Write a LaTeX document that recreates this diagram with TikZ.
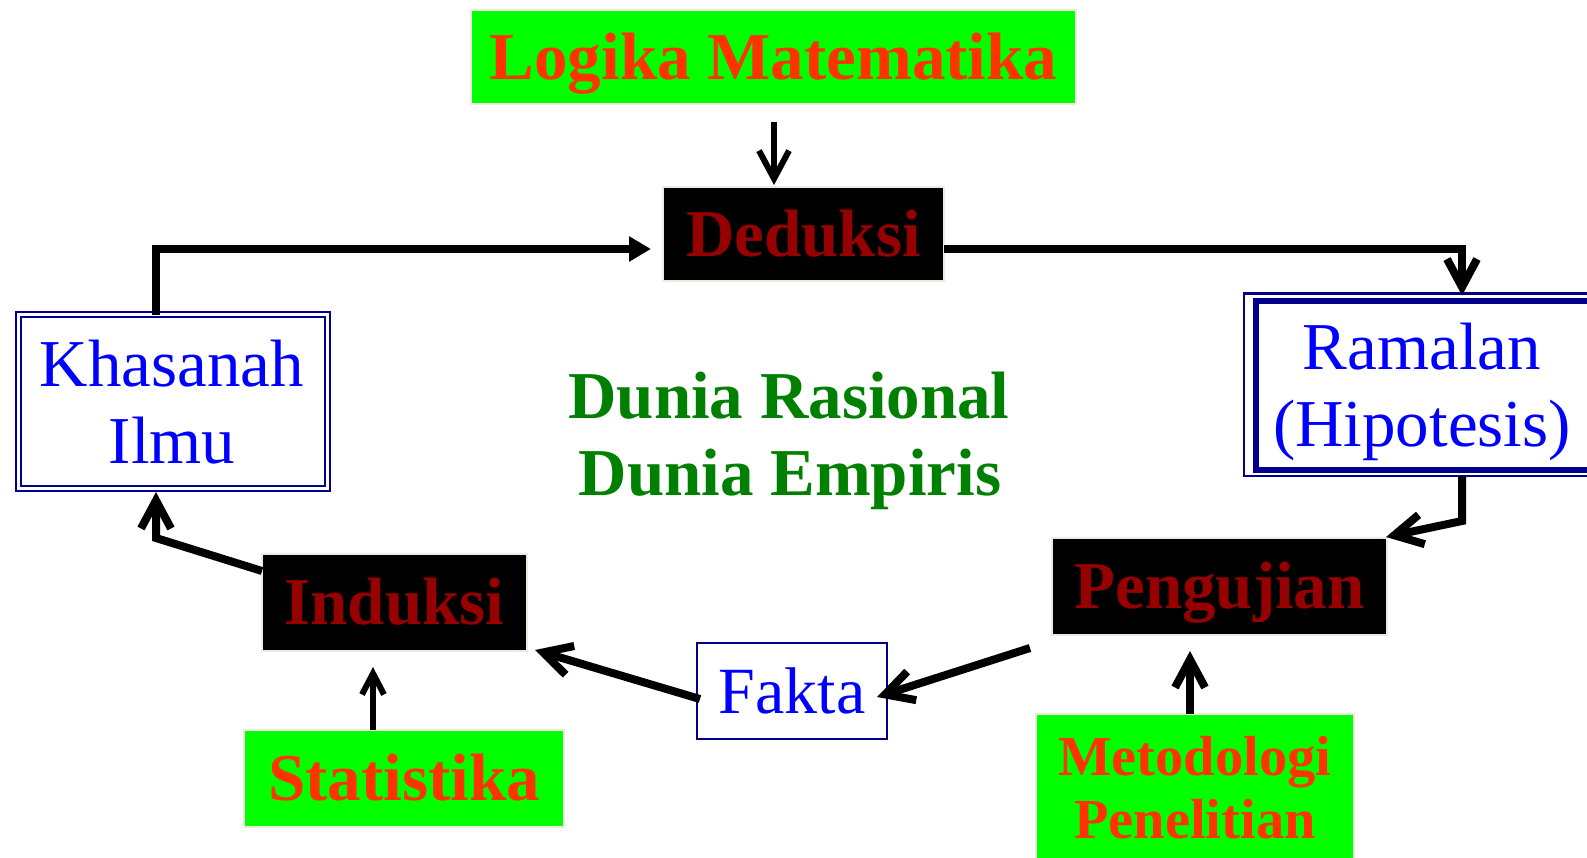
\documentclass[tikz,border=0pt]{standalone}
\usepackage{fontspec}
\setmainfont{Liberation Serif}
\usetikzlibrary{arrows.meta}
\definecolor{lgreen}{RGB}{0,255,0}
\definecolor{ored}{RGB}{255,51,0}
\definecolor{dred}{RGB}{150,0,0}
\definecolor{tblue}{RGB}{0,0,255}
\definecolor{dgreen}{RGB}{0,128,0}
\definecolor{navyb}{RGB}{0,0,140}
\definecolor{edgec}{RGB}{238,234,222}
\begin{document}
\begin{tikzpicture}[x=1pt,y=-1pt,
  boldfont/.style={font=\bfseries\fontsize{67}{80}\selectfont},
  greenbox/.style={fill=lgreen,draw=edgec,line width=1.5pt,text=ored,boldfont,inner sep=0pt,outer sep=0pt,text height=44pt,text depth=0pt},
  blackbox/.style={fill=black,draw=edgec,line width=1.5pt,text=dred,boldfont,inner sep=0pt,outer sep=0pt,text height=44pt,text depth=0pt},
  bluetxt/.style={text=tblue,font=\fontsize{67}{80}\selectfont,inner sep=0pt},
  greentxt/.style={text=dgreen,boldfont,inner sep=0pt},
  metotxt/.style={text=ored,font=\bfseries\fontsize{56.5}{68}\selectfont,inner sep=0pt},
  thickline/.style={line width=8pt},
  barb/.style={thickline,-{Straight Barb[length=28pt,width=30pt]}},
  thinbarb/.style={line width=6pt,-{Straight Barb[length=28pt,width=30pt]}},
  smallbarb/.style={line width=6pt,-{Straight Barb[length=21pt,width=22pt]}},
]
\useasboundingbox (0,0) rectangle (1587,857);
\fill[white] (0,0) rectangle (1587,857);
\clip (0,0) rectangle (1587,857);

% boxes
\node[greenbox,minimum width=605pt,minimum height=94pt] (logika) at (773.5,57) {Logika Matematika};
\node[blackbox,minimum width=281pt,minimum height=94pt] (deduksi) at (803.5,234) {Deduksi};
\node[blackbox,minimum width=335pt,minimum height=97pt] (pengujian) at (1219.5,586.5) {Pengujian};
\node[blackbox,minimum width=265pt,minimum height=97pt] (induksi) at (394.5,602.5) {Induksi};
\node[greenbox,minimum width=320pt,minimum height=97pt] (statistika) at (404,778.5) {Statistika};
\node[draw=navyb,line width=2pt,inner sep=0pt,outer sep=0pt,minimum width=190pt,minimum height=96pt,text=tblue,font=\fontsize{66}{80}\selectfont,text height=44pt,text depth=0pt] (fakta) at (792,691) {Fakta};
\node[fill=lgreen,draw=edgec,line width=1.5pt,inner sep=0pt,outer sep=0pt,minimum width=318pt,minimum height=186pt] (metodologi) at (1195,807) {};
\node[draw=navyb,line width=2.2pt,double=white,double distance=3pt,inner sep=0pt,outer sep=0pt,minimum width=309pt,minimum height=174pt] (khasanah) at (173,401.5) {};
\node[draw=navyb,line width=2.5pt,inner sep=0pt,outer sep=0pt,minimum width=500pt,minimum height=182.5pt,anchor=north west] (ramalan) at (1244,293.5) {};
\draw[navyb,line width=6pt] ([shift={(12pt,-7pt)}]ramalan.north west) rectangle ([shift={(-12pt,6.5pt)}]ramalan.south east);

% texts
\node[bluetxt,anchor=base] (kh1) at (172,386) {Khasanah};
\node[bluetxt,anchor=base] (kh2) at (172,463) {Ilmu};
\node[bluetxt,anchor=base] (ra1) at (1422,369) {Ramalan};
\node[bluetxt,anchor=base] (ra2) at (1422,446) {(Hipotesis)};
\node[greentxt,anchor=base] (dr) at (789,418) {Dunia Rasional};
\node[greentxt,anchor=base] (de) at (790,495) {Dunia Empiris};
\node[metotxt,anchor=base] (m1) at (1195,775) {Metodologi};
\node[metotxt,anchor=base] (m2) at (1195,838) {Penelitian};

% connectors
\draw[thinbarb,shorten <=18pt] ([xshift=0.5pt]logika.south) -- ++(0,81);
\draw[thickline,-{Triangle[length=22pt,width=24pt]}] ([xshift=-17pt]khasanah.north) |- ([xshift=-12pt,yshift=-15pt]deduksi.west);
\draw[barb] ([yshift=-15pt]deduksi.east) -| ([xshift=218pt,yshift=-2pt]ramalan.north west);
\draw[barb] ([xshift=218pt]ramalan.south west) -- ++(0,45) -- ([shift={(-1pt,1pt)}]pengujian.north east);
\draw[barb] ([xshift=-5pt]metodologi.north) -- ++(0,-63);
\draw[barb] ([shift={(-22pt,-13pt)}]pengujian.south west) -- ([shift={(-10pt,-6pt)}]fakta.east);
\draw[barb] ([shift={(3pt,-8pt)}]fakta.west) -- ([shift={(8pt,1pt)}]induksi.south east);
\draw[barb] ([yshift=-17pt]induksi.north west) -- ([xshift=-17pt,yshift=-49.5pt]khasanah.south) -- ([xshift=-17pt,yshift=-3.5pt]khasanah.south);
\draw[smallbarb] ([xshift=-31pt]statistika.north) -- ++(0,-63);
\end{tikzpicture}
\end{document}
